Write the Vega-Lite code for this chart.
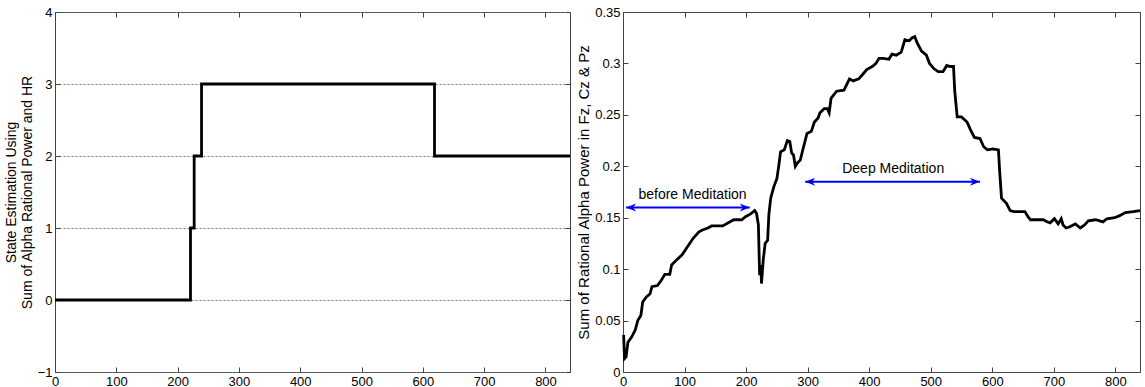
{
  "$schema": "https://vega.github.io/schema/vega-lite/v6.json",
  "background": "white",
  "padding": {"left": 3, "top": 5, "right": 0, "bottom": 0},
  "bounds": "flush",
  "spacing": 53,
  "config": {
    "font": "Liberation Sans",
    "view": {"stroke": "#444", "strokeWidth": 1},
    "axis": {
      "labelFont": "Liberation Sans",
      "labelFontSize": 13,
      "labelColor": "#000",
      "labelFlush": false,
      "labelOverlap": false,
      "titleFont": "Liberation Sans",
      "titleFontWeight": "normal",
      "titleColor": "#000",
      "domain": false,
      "tickColor": "#444",
      "tickSize": -5,
      "labelPadding": 8,
      "grid": false
    }
  },
  "datasets": {
    "state": [
      {"t": 0, "state": 0},
      {"t": 221, "state": 1},
      {"t": 227, "state": 2},
      {"t": 239, "state": 3},
      {"t": 619, "state": 2},
      {"t": 840, "state": 2}
    ],
    "alpha": [
      {"t": 1, "power": 0.036},
      {"t": 2.5, "power": 0.013},
      {"t": 5, "power": 0.0146},
      {"t": 8, "power": 0.029},
      {"t": 14, "power": 0.034},
      {"t": 20, "power": 0.041},
      {"t": 24, "power": 0.05},
      {"t": 29, "power": 0.055},
      {"t": 32, "power": 0.068},
      {"t": 38, "power": 0.073},
      {"t": 44, "power": 0.076},
      {"t": 47, "power": 0.083},
      {"t": 56, "power": 0.084},
      {"t": 62, "power": 0.089},
      {"t": 68, "power": 0.095},
      {"t": 76, "power": 0.095},
      {"t": 79, "power": 0.104},
      {"t": 87, "power": 0.109},
      {"t": 96, "power": 0.114},
      {"t": 105, "power": 0.122},
      {"t": 114, "power": 0.13},
      {"t": 123, "power": 0.136},
      {"t": 129, "power": 0.138},
      {"t": 138, "power": 0.14},
      {"t": 144, "power": 0.142},
      {"t": 162, "power": 0.142},
      {"t": 174, "power": 0.146},
      {"t": 180, "power": 0.148},
      {"t": 193, "power": 0.148},
      {"t": 199, "power": 0.151},
      {"t": 208, "power": 0.154},
      {"t": 214, "power": 0.157},
      {"t": 217, "power": 0.154},
      {"t": 220, "power": 0.143},
      {"t": 222, "power": 0.094},
      {"t": 224, "power": 0.104},
      {"t": 225, "power": 0.086},
      {"t": 228, "power": 0.11},
      {"t": 231, "power": 0.125},
      {"t": 235, "power": 0.128},
      {"t": 237, "power": 0.153},
      {"t": 240, "power": 0.169},
      {"t": 245, "power": 0.18},
      {"t": 250, "power": 0.188},
      {"t": 253, "power": 0.2},
      {"t": 256, "power": 0.214},
      {"t": 262, "power": 0.216},
      {"t": 267, "power": 0.225},
      {"t": 271, "power": 0.224},
      {"t": 274, "power": 0.213},
      {"t": 277, "power": 0.211},
      {"t": 280, "power": 0.2},
      {"t": 283, "power": 0.203},
      {"t": 288, "power": 0.206},
      {"t": 293, "power": 0.218},
      {"t": 299, "power": 0.232},
      {"t": 306, "power": 0.234},
      {"t": 311, "power": 0.243},
      {"t": 317, "power": 0.247},
      {"t": 320, "power": 0.252},
      {"t": 327, "power": 0.256},
      {"t": 332, "power": 0.256},
      {"t": 335, "power": 0.252},
      {"t": 338, "power": 0.266},
      {"t": 347, "power": 0.273},
      {"t": 359, "power": 0.274},
      {"t": 368, "power": 0.285},
      {"t": 374, "power": 0.283},
      {"t": 383, "power": 0.285},
      {"t": 389, "power": 0.289},
      {"t": 396, "power": 0.294},
      {"t": 405, "power": 0.297},
      {"t": 411, "power": 0.3},
      {"t": 416, "power": 0.305},
      {"t": 423, "power": 0.305},
      {"t": 432, "power": 0.304},
      {"t": 437, "power": 0.309},
      {"t": 444, "power": 0.308},
      {"t": 452, "power": 0.311},
      {"t": 458, "power": 0.323},
      {"t": 465, "power": 0.322},
      {"t": 470, "power": 0.325},
      {"t": 474, "power": 0.326},
      {"t": 478, "power": 0.32},
      {"t": 485, "power": 0.312},
      {"t": 493, "power": 0.308},
      {"t": 498, "power": 0.3},
      {"t": 505, "power": 0.295},
      {"t": 512, "power": 0.292},
      {"t": 520, "power": 0.292},
      {"t": 526, "power": 0.298},
      {"t": 532, "power": 0.297},
      {"t": 537, "power": 0.297},
      {"t": 539, "power": 0.273},
      {"t": 543, "power": 0.248},
      {"t": 550, "power": 0.248},
      {"t": 559, "power": 0.243},
      {"t": 565, "power": 0.235},
      {"t": 571, "power": 0.228},
      {"t": 580, "power": 0.227},
      {"t": 586, "power": 0.219},
      {"t": 592, "power": 0.216},
      {"t": 601, "power": 0.217},
      {"t": 610, "power": 0.216},
      {"t": 612, "power": 0.195},
      {"t": 615, "power": 0.169},
      {"t": 623, "power": 0.164},
      {"t": 629, "power": 0.157},
      {"t": 635, "power": 0.156},
      {"t": 653, "power": 0.156},
      {"t": 658, "power": 0.151},
      {"t": 662, "power": 0.148},
      {"t": 674, "power": 0.148},
      {"t": 683, "power": 0.148},
      {"t": 689, "power": 0.146},
      {"t": 694, "power": 0.145},
      {"t": 701, "power": 0.149},
      {"t": 707, "power": 0.144},
      {"t": 712, "power": 0.149},
      {"t": 715, "power": 0.143},
      {"t": 720, "power": 0.14},
      {"t": 725, "power": 0.141},
      {"t": 735, "power": 0.144},
      {"t": 743, "power": 0.14},
      {"t": 750, "power": 0.143},
      {"t": 756, "power": 0.147},
      {"t": 768, "power": 0.148},
      {"t": 780, "power": 0.146},
      {"t": 786, "power": 0.149},
      {"t": 799, "power": 0.15},
      {"t": 807, "power": 0.152},
      {"t": 816, "power": 0.155},
      {"t": 829, "power": 0.156},
      {"t": 840, "power": 0.157}
    ],
    "arrows": [
      {"x1": 5, "x2": 206, "y": 0.16, "label": "before Meditation", "lx": 113, "ly": 0.172},
      {"x1": 296, "x2": 580, "y": 0.185, "label": "Deep Meditation", "lx": 439, "ly": 0.197}
    ],
    "heads": [
      {"x": 5, "y": 0.16, "dir": "left"},
      {"x": 206, "y": 0.16, "dir": "right"},
      {"x": 296, "y": 0.185, "dir": "left"},
      {"x": 580, "y": 0.185, "dir": "right"}
    ]
  },
  "hconcat": [
    {
      "width": 515,
      "height": 360,
      "data": {"name": "state"},
      "layer": [
        {
          "mark": {"type": "line", "interpolate": "step-after", "color": "#000", "strokeWidth": 2.8},
          "encoding": {
            "x": {
              "field": "t", "type": "quantitative",
              "scale": {"domain": [0, 840], "nice": false, "zero": false},
              "axis": {"values": [0, 100, 200, 300, 400, 500, 600, 700, 800], "title": null}
            },
            "y": {
              "field": "state", "type": "quantitative",
              "scale": {"domain": [-1, 4], "nice": false, "zero": false},
              "axis": {
                "values": [-1, 0, 1, 2, 3, 4],
                "title": ["State Estimation Using", "Sum of Alpha Rational Power and HR"],
                "titleFontSize": 14,
                "titlePadding": 3,
                "grid": true,
                "gridDash": [2, 2],
                "gridColor": "#777",
                "gridOpacity": 1
              }
            }
          }
        },
        {
          "mark": {"type": "point", "opacity": 0},
          "encoding": {
            "x": {"field": "t", "type": "quantitative",
              "axis": {"orient": "top", "labels": false, "title": null, "values": [0, 100, 200, 300, 400, 500, 600, 700, 800]}},
            "y": {"field": "state", "type": "quantitative",
              "axis": {"orient": "right", "labels": false, "title": null, "values": [-1, 0, 1, 2, 3, 4]}}
          }
        }
      ],
      "resolve": {"axis": {"x": "independent", "y": "independent"}}
    },
    {
      "width": 517,
      "height": 360,
      "layer": [
        {
          "data": {"name": "alpha"},
          "mark": {"type": "line", "color": "#000", "strokeWidth": 2.8},
          "encoding": {
            "x": {
              "field": "t", "type": "quantitative",
              "scale": {"domain": [0, 840], "nice": false, "zero": false},
              "axis": {"values": [0, 100, 200, 300, 400, 500, 600, 700, 800], "title": null}
            },
            "y": {
              "field": "power", "type": "quantitative",
              "scale": {"domain": [0, 0.35], "nice": false},
              "axis": {
                "values": [0, 0.05, 0.1, 0.15, 0.2, 0.25, 0.3, 0.35],
                "format": "~g",
                "title": "Sum of Rational Alpha Power in Fz, Cz & Pz",
                "titleFontSize": 15,
                "titlePadding": 3
              }
            }
          }
        },
        {
          "data": {"name": "alpha"},
          "mark": {"type": "point", "opacity": 0},
          "encoding": {
            "x": {"field": "t", "type": "quantitative",
              "axis": {"orient": "top", "labels": false, "title": null, "values": [0, 100, 200, 300, 400, 500, 600, 700, 800]}},
            "y": {"field": "power", "type": "quantitative",
              "axis": {"orient": "right", "labels": false, "title": null, "values": [0, 0.05, 0.1, 0.15, 0.2, 0.25, 0.3, 0.35]}}
          }
        },
        {
          "data": {"name": "arrows"},
          "mark": {"type": "rule", "color": "#0000ff", "strokeWidth": 2},
          "encoding": {
            "x": {"field": "x1", "type": "quantitative", "axis": null},
            "x2": {"field": "x2"},
            "y": {"field": "y", "type": "quantitative", "axis": null}
          }
        },
        {
          "data": {"name": "heads"},
          "mark": {"type": "point", "filled": true, "color": "#0000ff", "opacity": 1, "size": 100},
          "encoding": {
            "x": {"field": "x", "type": "quantitative", "axis": null},
            "y": {"field": "y", "type": "quantitative", "axis": null},
            "shape": {
              "field": "dir", "type": "nominal", "legend": null,
              "scale": {"domain": ["left", "right"], "range": ["M0,0L2,-0.8L1.4,0L2,0.8Z", "M0,0L-2,-0.8L-1.4,0L-2,0.8Z"]}
            }
          }
        },
        {
          "data": {"name": "arrows"},
          "mark": {"type": "text", "font": "Liberation Sans", "fontSize": 14, "color": "#000", "baseline": "middle", "align": "center"},
          "encoding": {
            "x": {"field": "lx", "type": "quantitative", "axis": null},
            "y": {"field": "ly", "type": "quantitative", "axis": null},
            "text": {"field": "label"}
          }
        }
      ],
      "resolve": {"axis": {"x": "independent", "y": "independent"}}
    }
  ]
}
